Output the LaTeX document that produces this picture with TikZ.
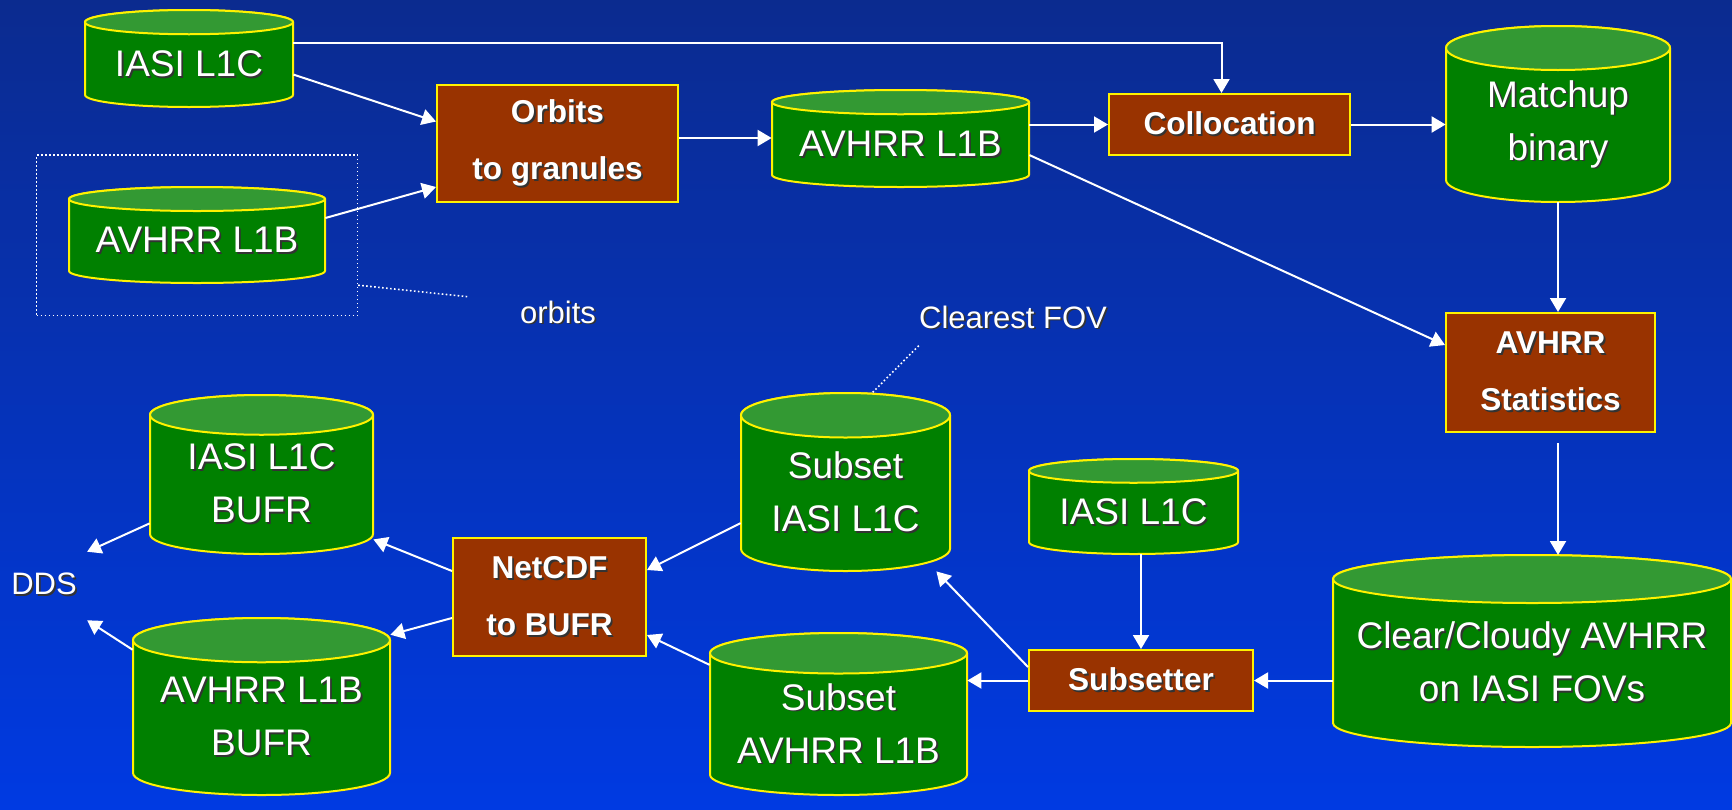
\documentclass[tikz,border=0pt]{standalone}
\usepackage{fontspec}
\setmainfont{Liberation Sans}
\usetikzlibrary{arrows.meta,calc,fit}

\definecolor{bgtop}{RGB}{11,43,143}
\definecolor{bgbottom}{RGB}{0,58,226}
\definecolor{cangreen}{RGB}{0,128,0}
\definecolor{canlid}{RGB}{51,153,51}
\definecolor{procbrown}{RGB}{153,51,0}

\tikzstyle{procbox} = [draw=yellow, line width=1pt, rectangle, fill=procbrown, text=white, inner sep=0pt, align=center, font=\bfseries\fontsize{15.8}{28.5}\selectfont]
\tikzstyle{cantext} = [rectangle, inner sep=0pt, text=white, align=center, font=\fontsize{18.5}{26.5}\selectfont]
\tikzstyle{canbody} = [fill=cangreen, draw=yellow, line width=1pt]
\tikzstyle{canlidfill} = [fill=canlid, draw=yellow, line width=1pt]
\tikzstyle{note} = [inner sep=0pt, text=white, font=\fontsize{15.5}{18}\selectfont]
\tikzstyle{flow} = [draw=white, line width=1pt, -{Triangle[length=7pt,width=8pt]}]
\tikzstyle{dotline} = [draw=white, line width=0.8pt, dash pattern=on 0.8pt off 1.2pt]

% white text with a dark drop shadow
\newcommand{\sh}[1]{\rlap{\kern0.9pt\raisebox{-0.9pt}{\color{black!80}#1}}#1}

% data file drawn as a can: name, left, top, right, bottom, text
\newcommand{\datacan}[6]{%
  \pgfmathsetmacro\canry{0.125*(#5-#3)}%
  \pgfmathsetmacro\canrx{(#4-#2)/2}%
  \pgfmathsetmacro\cancx{(#2+#4)/2}%
  \path[canbody] (#2,{#3+\canry}) -- (#2,{#5-\canry})
    arc[start angle=180, end angle=360, x radius=\canrx*0.5pt, y radius=\canry*0.5pt]
    -- (#4,{#3+\canry})
    arc[start angle=0, end angle=180, x radius=\canrx*0.5pt, y radius=\canry*0.5pt] -- cycle;
  \path[canlidfill] (\cancx,{#3+\canry}) ellipse[x radius=\canrx*0.5pt, y radius=\canry*0.5pt];
  \node[cantext, minimum width={(#4-#2)*0.5pt}, minimum height={(#5-#3-\canry)*0.5pt}] (#1)
    at (\cancx,{(#3+\canry+#5)/2}) {#6};
  \coordinate (#1-top) at (\cancx,#3);
}

\begin{document}
\begin{tikzpicture}[x=0.5pt,y=-0.5pt]
\useasboundingbox (0,0) rectangle (1732,809);
\shade[top color=bgtop, bottom color=bgbottom] (0,0) rectangle (1732,809);

% data files
\datacan{iasiA}{85}{10}{293}{107}{\sh{IASI L1C}}
\datacan{avhrrA}{69}{187}{325}{283}{\sh{AVHRR L1B}}
\datacan{avhrrB}{772}{90}{1029}{187}{\sh{AVHRR L1B}}
\datacan{match}{1446}{26}{1670}{202}{\sh{Matchup}\\\sh{binary}}
\datacan{clear}{1333}{555}{1731}{747}{\sh{Clear/Cloudy AVHRR}\\\sh{on IASI FOVs}}
\datacan{iasiC}{1029}{459}{1238}{554}{\sh{IASI L1C}}
\datacan{subIasi}{741}{393}{950}{571}{\sh{Subset}\\\sh{IASI L1C}}
\datacan{subAvhrr}{710}{633}{967}{795}{\sh{Subset}\\\sh{AVHRR L1B}}
\datacan{bufrIasi}{150}{395}{373}{554}{\sh{IASI L1C}\\\sh{BUFR}}
\datacan{bufrAvhrr}{133}{618}{390}{795}{\sh{AVHRR L1B}\\\sh{BUFR}}

% processing steps
\node[procbox, minimum width=120.5pt, minimum height=58.5pt] (orbit) at (557.5,143.5) {\sh{Orbits}\\\sh{to granules}};
\node[procbox, minimum width=120.5pt, minimum height=30.5pt] (colloc) at (1229.5,124.5) {\sh{Collocation}};
\node[procbox, minimum width=104.5pt, minimum height=59.5pt] (stats) at (1550.5,372.5) {\sh{AVHRR}\\\sh{Statistics}};
\node[procbox, minimum width=112pt, minimum height=30.5pt] (subset) at (1141,680.5) {\sh{Subsetter}};
\node[procbox, minimum width=96.5pt, minimum height=59pt] (netcdf) at (549.5,597) {\sh{NetCDF}\\\sh{to BUFR}};

% labels
\node[note] (dds) at (44,585) {\sh{DDS}};
\node[note] (orbitlbl) at (558,313) {\sh{orbits}};
\node[note] (fovlbl) at (1013,318) {\sh{Clearest FOV}};
\node[dotline, rectangle, fit=(avhrrA-top)(avhrrA), inner sep=16pt] (orbitgrp) {};
\draw[dotline] ([yshift=15.5pt]orbitgrp.south east) -- ([shift={(-25.5pt,1.75pt)}]orbitlbl.north west);
\draw[dotline] ([yshift=-7.5pt]fovlbl.south west) -- ([xshift=13.25pt]subIasi-top);

% flows
\draw[flow] ([yshift=11pt]iasiA.east) -| ([xshift=-4pt]colloc.north);
\draw[flow] ([yshift=-5pt]iasiA.east) -- ([yshift=11pt]orbit.west);
\draw[flow] ([yshift=11.5pt]avhrrA.east) -- ([yshift=-21.75pt]orbit.west);
\draw[flow] ([yshift=2.75pt]orbit.east) -- ([yshift=2.75pt]orbit.east -| avhrrB.west);
\draw[flow] (avhrrB.east |- colloc.west) -- (colloc.west);
\draw[flow] (colloc.east) -- (colloc.east -| match.west);
\draw[flow] ([yshift=-5.25pt]avhrrB.east) -- ([yshift=13.75pt]stats.west);
\draw[flow] (match.south) -- (match.south |- stats.north);
\draw[flow] ([yshift=-5pt]stats.south -| match.south) -- (match.south |- clear-top);
\draw[flow] (clear.west |- subset.east) -- (subset.east);
\draw[flow] (iasiC.south -| subset.north) -- (subset.north);
\draw[flow] (subset.west) -- (subset.west -| subAvhrr.east);
\draw[flow] ([yshift=6.75pt]subset.west) -- ([xshift=-7pt]subIasi.south east);
\draw[flow] ([yshift=-15pt]subIasi.west) -- ([yshift=13.5pt]netcdf.east);
\draw[flow] ([yshift=-6pt]subAvhrr.north west) -- ([yshift=-19pt]netcdf.east);
\draw[flow] ([yshift=13pt]netcdf.west) -- ([yshift=7.5pt]bufrIasi.south east);
\draw[flow] ([yshift=-10.5pt]netcdf.west) -- ([yshift=2.5pt]bufrAvhrr.north east);
\draw[flow] ([yshift=15.5pt]bufrIasi.south west) -- ([shift={(5pt,10.5pt)}]dds.north east);
\draw[flow] ([yshift=-5pt]bufrAvhrr.north west) -- ([shift={(5pt,-11.5pt)}]dds.south east);
\end{tikzpicture}
\end{document}
